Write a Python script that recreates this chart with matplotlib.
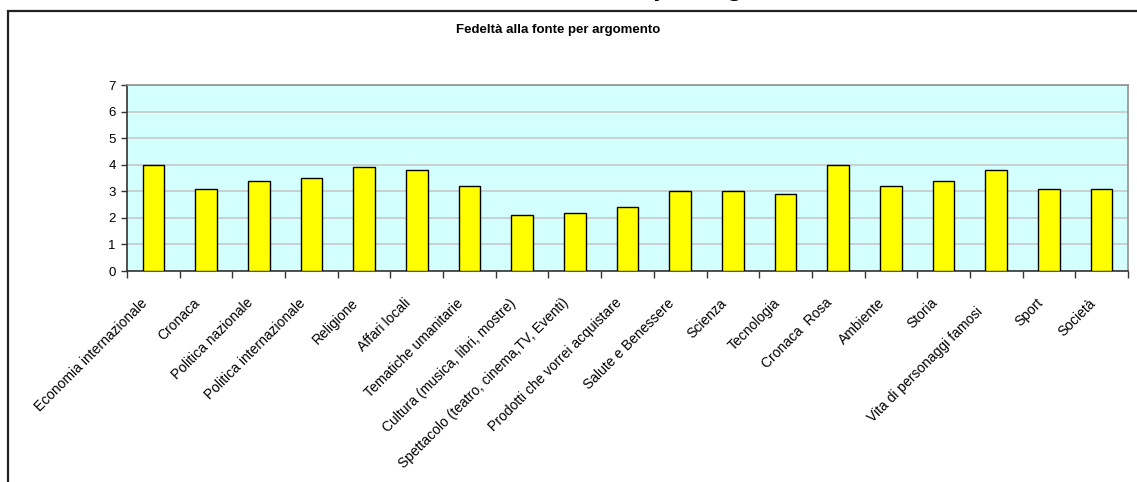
import matplotlib
matplotlib.use("Agg")
import matplotlib.pyplot as plt
import matplotlib.transforms as mtransforms
from matplotlib.patches import Rectangle
import numpy as np

categories = [
    "Economia internazionale", "Cronaca", "Politica nazionale",
    "Politica internazionale", "Religione", "Affari locali",
    "Tematiche umanitarie", "Cultura (musica, libri, mostre)",
    "Spettacolo (teatro, cinema,TV, Eventi)", "Prodotti che vorrei acquistare",
    "Salute e Benessere", "Scienza", "Tecnologia", "Cronaca  Rosa",
    "Ambiente", "Storia", "Vita di personaggi famosi   ", "Sport", "Società",
]
values = [4.0, 3.1, 3.4, 3.5, 3.9, 3.8, 3.2, 2.1, 2.2, 2.4,
          3.0, 3.0, 2.9, 4.0, 3.2, 3.4, 3.8, 3.1, 3.1]
y_ticks = [0, 1, 2, 3, 4, 5, 6, 7]
chart_title = "Fedeltà alla fonte per argomento"

plt.rcParams['font.family'] = ['Liberation Sans', 'DejaVu Sans']

W, H = 1137, 482
fig = plt.figure(figsize=(W / 100, H / 100), dpi=100)
fig.patch.set_facecolor('white')

# outer frame (chart area border)
frame = Rectangle((7.5 / W, -0.05), 1.1, 1 - 10.5 / H + 0.05,
                  transform=fig.transFigure, fill=False,
                  edgecolor='#222222', linewidth=1.6, clip_on=False)
fig.add_artist(frame)

# cut-off big title at the very top (only descenders visible)
fig.text(634 / W, 1 + 4 / H, chart_title, ha='center', va='baseline',
         fontsize=19, fontweight='bold', color='black')

# chart title
fig.text(558 / W, 1 - 30 / H, chart_title, ha='center', va='center',
         fontsize=9.5, fontweight='bold', color='black')

ax = fig.add_axes([127 / W, 1 - 271 / H, (1128 - 127) / W, (271 - 85) / H])
ax.set_facecolor('#D4FFFF')

x = np.arange(len(categories))
ax.bar(x, values, width=0.41, color='#FFFF00', edgecolor='black',
       linewidth=1.0, zorder=3)

ax.set_xlim(-0.5, len(categories) - 0.5)
ax.set_ylim(0, 7)
ax.set_yticks(y_ticks)
ax.set_yticklabels([str(v) for v in y_ticks], fontsize=9.5)
ax.yaxis.grid(True, color='#C8C8C8', linewidth=1.2, zorder=0)
ax.set_axisbelow(True)

ax.set_xticks(x)
ax.set_xticks(np.arange(len(categories) + 1) - 0.5, minor=True)
ax.tick_params(axis='x', which='major', length=0, pad=21.5)
ax.tick_params(axis='x', which='minor', length=5, width=1, color='#333333',
               direction='out')
ax.tick_params(axis='y', which='major', length=4, width=1, color='#333333',
               direction='out', pad=4)

labels = ax.set_xticklabels(categories, rotation=45, ha='right', va='center',
                            rotation_mode='anchor', fontsize=10)
offset = mtransforms.ScaledTranslation(-8 / 100, 0, fig.dpi_scale_trans)
for lab in labels:
    lab.set_transform(lab.get_transform() + offset)

for side in ['top', 'right']:
    ax.spines[side].set_color('#909090')
    ax.spines[side].set_linewidth(1.2)
for side in ['left', 'bottom']:
    ax.spines[side].set_color('#333333')
    ax.spines[side].set_linewidth(1.2)

fig.savefig('out.png', dpi=100, facecolor='white')
